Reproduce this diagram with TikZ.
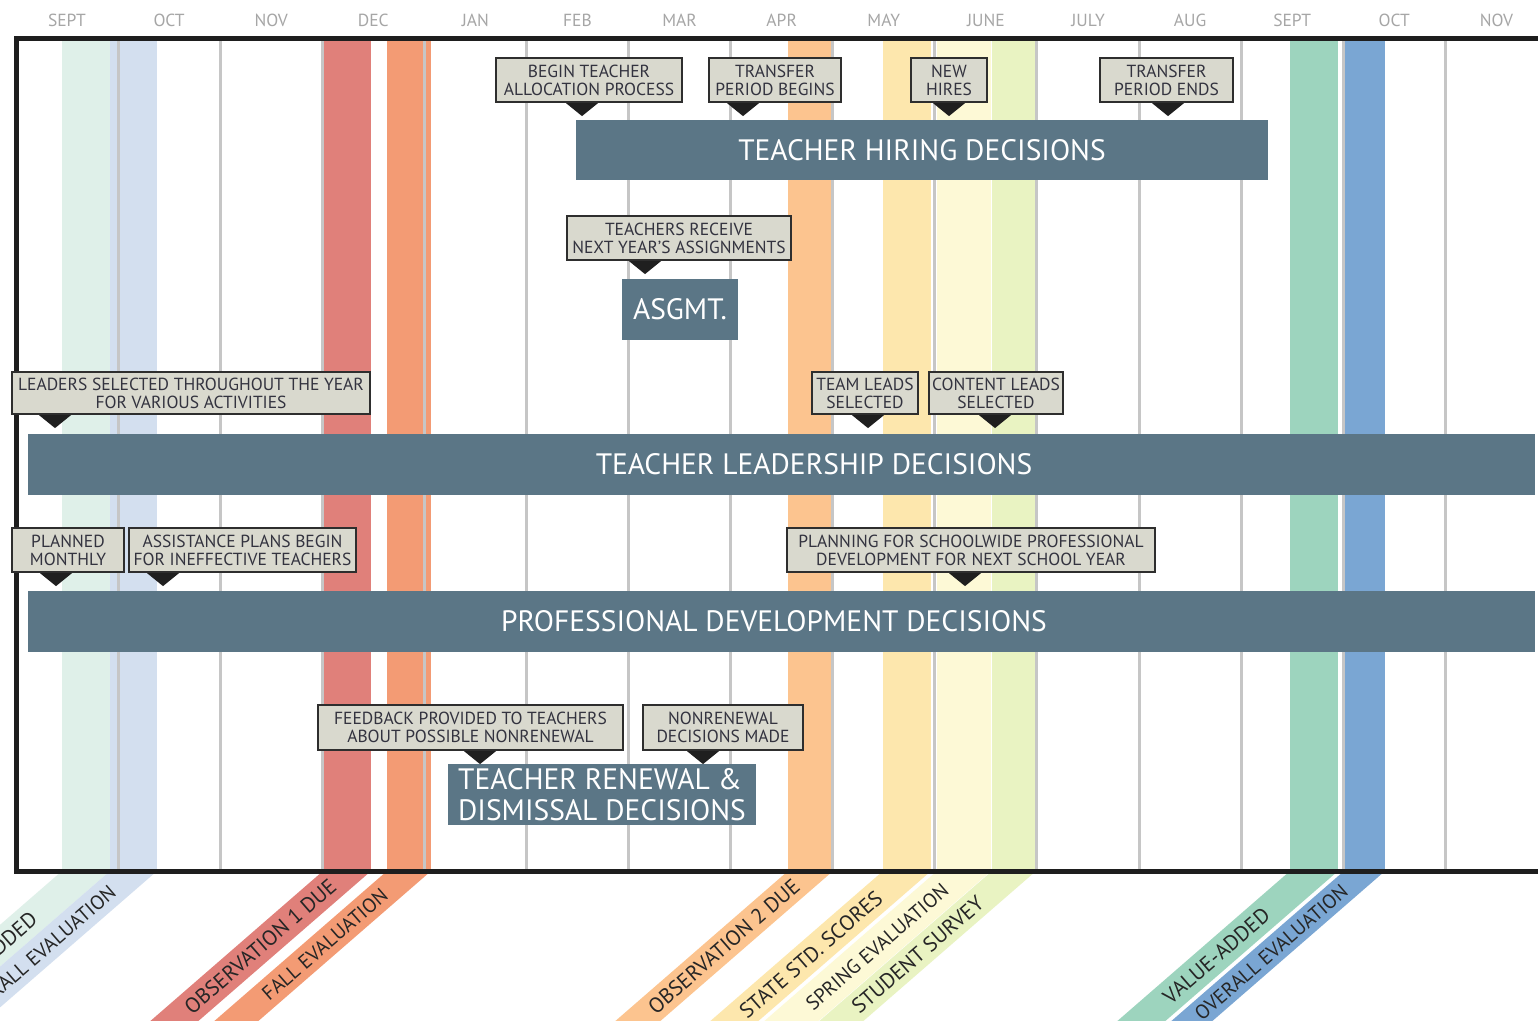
\documentclass[tikz,border=0pt]{standalone}
\usepackage{fontspec}
\setmainfont{PT Sans}
\usetikzlibrary{calc}

\definecolor{bandteal}{HTML}{DFF0E9}
\definecolor{bandsky}{HTML}{D3DFEF}
\definecolor{bandred}{HTML}{E0807A}
\definecolor{bandorange}{HTML}{F39B74}
\definecolor{bandpeach}{HTML}{FCC48F}
\definecolor{bandyellow}{HTML}{FDE7AD}
\definecolor{bandcream}{HTML}{FDF9D6}
\definecolor{bandlime}{HTML}{E9F3C2}
\definecolor{bandgreen}{HTML}{9DD4BE}
\definecolor{bandblue}{HTML}{7AA6D3}
\definecolor{gridgrey}{HTML}{C6C6C6}
\definecolor{framedark}{HTML}{1E1E1E}
\definecolor{monthgrey}{HTML}{A6A6A6}
\definecolor{barslate}{HTML}{5B7686}
\definecolor{calloutfill}{HTML}{D9D9CE}
\definecolor{calloutedge}{HTML}{2E2E2E}
\definecolor{callouttext}{HTML}{33333F}
\definecolor{tipdark}{HTML}{1F1F1F}
\definecolor{striptext}{HTML}{262626}

% a month band: vertical strip inside the frame, slanted strip below it, rotated caption
\newcommand\datestrip[6]{%
  \fill[#1] (#2,38) rectangle (#3,871);
  \fill[#1] (#2,871) -- (#3,871) -- ++(-183,159) -- ++({#2-#3},0) -- cycle;
  \node[striplbl] (#5) at ({(#2+#3)/2-1.151*#4},{871+#4}) {#6};
}
% downward pointer under a callout box
\newcommand\callouttip[2]{%
  \fill[tipfill] (#1.south -| #2,0) ++(-16,0) -- ++(32,0) -- ++(-16,13) -- cycle;
}
\newcommand\narrowcap{\fontsize{20}{21}\selectfont}

\begin{document}
\begin{tikzpicture}[x=1pt, y=-1pt,
  gridln/.style={draw=gridgrey, line width=3pt},
  frameln/.style={draw=framedark, line width=5pt},
  monthlbl/.style={text=monthgrey, font=\fontsize{17.5}{17.5}\selectfont, inner sep=0pt},
  bar/.style={fill=barslate, inner sep=0pt},
  barfont/.style={text=white, font=\fontsize{29.5}{31}\selectfont},
  barlbl/.style={barfont, inner sep=0pt},
  callout/.style={draw=calloutedge, line width=2.2pt, fill=calloutfill,
    text=callouttext, font=\fontsize{17.5}{18}\selectfont, align=center, inner sep=0pt},
  tipfill/.style={fill=tipdark},
  striplbl/.style={text=striptext, font=\fontsize{21.3}{22}\selectfont,
    rotate=41, inner sep=0pt, anchor=east},
]
\useasboundingbox (0,0) rectangle (1538,1020);
\clip (0,0) rectangle (1538,1020);
\fill[white] (0,0) rectangle (1538,1020);

% month bands with their slanted captions
\datestrip{bandteal}{62}{110}{45}{valueA}{VALUE-ADDED}
\datestrip{bandsky}{110}{157}{18}{overallA}{\narrowcap OVERALL EVALUATION}
\datestrip{bandred}{323}{371}{12}{obsone}{OBSERVATION 1 DUE}
\datestrip{bandorange}{387}{431}{21}{falleval}{\narrowcap FALL EVALUATION}
\datestrip{bandpeach}{788}{833}{12}{obstwo}{OBSERVATION 2 DUE}
\datestrip{bandyellow}{883}{931}{24}{statestd}{STATE STD. SCORES}
\datestrip{bandcream}{937}{991}{16}{springeval}{\narrowcap SPRING EVALUATION}
\datestrip{bandlime}{992}{1036}{29}{survey}{STUDENT SURVEY}
\datestrip{bandgreen}{1290}{1338}{41}{valueB}{VALUE-ADDED}
\datestrip{bandblue}{1344}{1385}{17}{overallB}{\narrowcap OVERALL EVALUATION}

% month separators
\foreach \i in {0,...,13}
  \draw[gridln] ({118+102.1*\i},38) -- ({118+102.1*\i},871);

% outer frame
\draw[frameln] (16,38.5) rectangle (1580,871);

% month headings
\foreach \m [count=\i from 0] in {SEPT,OCT,NOV,DEC,JAN,FEB,MAR,APR,MAY,JUNE,JULY,AUG,SEPT,OCT,NOV}
  \node[monthlbl] (month\i) at ({67+102.1*\i},20) {\m};

% decision bars
\node[bar, barfont, minimum width=692pt, minimum height=60pt] (hiring) at (922,150)
  {TEACHER HIRING DECISIONS};
\node[bar, barfont, minimum width=116pt, minimum height=61pt] (asgmt) at (680,309.5)
  {ASGMT.};
\node[bar, minimum width=1507pt, minimum height=61pt,
  label={[barlbl, xshift=32.5pt]center:TEACHER LEADERSHIP DECISIONS}] (leadership) at (781.5,464.5) {};
\node[bar, minimum width=1507pt, minimum height=61pt,
  label={[barlbl, xshift=-7.5pt]center:PROFESSIONAL DEVELOPMENT DECISIONS}] (profdev) at (781.5,621.5) {};
\node[bar, barfont, minimum width=308pt, minimum height=61pt, align=left] (renewal) at (602,794.5)
  {TEACHER RENEWAL \&\\DISMISSAL DECISIONS};

% callouts
\node[callout, minimum width=186pt, minimum height=44pt] (allocation) at (589,80)
  {BEGIN TEACHER\\ALLOCATION PROCESS};
\callouttip{allocation}{582}
\node[callout, minimum width=132pt, minimum height=44pt] (transferbegin) at (775,80)
  {TRANSFER\\PERIOD BEGINS};
\callouttip{transferbegin}{743}
\node[callout, minimum width=76pt, minimum height=44pt] (newhires) at (949,80)
  {NEW\\HIRES};
\callouttip{newhires}{949}
\node[callout, minimum width=133pt, minimum height=44pt] (transferend) at (1166.5,80)
  {TRANSFER\\PERIOD ENDS};
\callouttip{transferend}{1168}
\node[callout, minimum width=224pt, minimum height=44pt] (assignments) at (679,238)
  {TEACHERS RECEIVE\\NEXT YEAR'S ASSIGNMENTS};
\callouttip{assignments}{645}
\node[callout, minimum width=358pt, minimum height=42pt] (leaders) at (191,393)
  {LEADERS SELECTED THROUGHOUT THE YEAR\\FOR VARIOUS ACTIVITIES};
\callouttip{leaders}{55}
\node[callout, minimum width=106pt, minimum height=42pt] (teamleads) at (865,393)
  {TEAM LEADS\\SELECTED};
\callouttip{teamleads}{868}
\node[callout, minimum width=134pt, minimum height=42pt] (contentleads) at (996,393)
  {CONTENT LEADS\\SELECTED};
\callouttip{contentleads}{995}
\node[callout, minimum width=112pt, minimum height=44pt] (monthly) at (68,550)
  {PLANNED\\MONTHLY};
\callouttip{monthly}{56}
\node[callout, minimum width=227pt, minimum height=44pt] (assistance) at (242.5,550)
  {ASSISTANCE PLANS BEGIN\\FOR INEFFECTIVE TEACHERS};
\callouttip{assistance}{163}
\node[callout, minimum width=368pt, minimum height=44pt] (schoolwide) at (971,550)
  {PLANNING FOR SCHOOLWIDE PROFESSIONAL\\DEVELOPMENT FOR NEXT SCHOOL YEAR};
\callouttip{schoolwide}{965}
\node[callout, minimum width=305pt, minimum height=45pt] (feedback) at (470.5,727.5)
  {FEEDBACK PROVIDED TO TEACHERS\\ABOUT POSSIBLE NONRENEWAL};
\callouttip{feedback}{480}
\node[callout, minimum width=160pt, minimum height=45pt] (nonrenewal) at (723,727.5)
  {NONRENEWAL\\DECISIONS MADE};
\callouttip{nonrenewal}{703}
\end{tikzpicture}
\end{document}
